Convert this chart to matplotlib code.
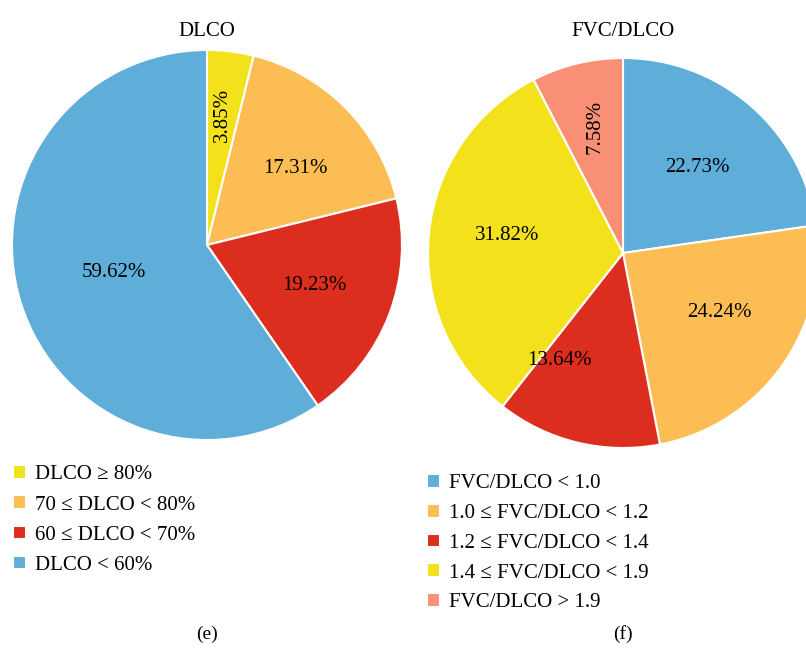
import numpy as np
import matplotlib
matplotlib.use("Agg")
import matplotlib.pyplot as plt

plt.rcParams['font.family'] = ['Liberation Serif', 'DejaVu Serif']

# DLCO pie (e)
dlco_labels = ["DLCO \u2265 80%", "70 \u2264 DLCO < 80%", "60 \u2264 DLCO < 70%", "DLCO < 60%"]
dlco_vals = [3.85, 17.31, 19.23, 59.62]
dlco_colors = ["#F2E11B", "#FDBD55", "#DC2E1E", "#5EAED9"]

# FVC/DLCO pie (f)
fvc_labels = ["FVC/DLCO < 1.0", "1.0 \u2264 FVC/DLCO < 1.2", "1.2 \u2264 FVC/DLCO < 1.4",
              "1.4 \u2264 FVC/DLCO < 1.9", "FVC/DLCO > 1.9"]
fvc_vals = [22.73, 24.24, 13.64, 31.82, 7.58]
fvc_colors = ["#5EAED9", "#FDBD55", "#DC2E1E", "#F2E11B", "#F98F75"]

W, H = 806, 650
R = 195
fig = plt.figure(figsize=(W / 100, H / 100), dpi=100)


def pie_axes(cx, cy):
    return fig.add_axes([(cx - R) / W, (H - cy - R) / H, 2 * R / W, 2 * R / H])


def draw_pie(ax, vals, colors, dist, rot, shift):
    wedges, _ = ax.pie(vals, colors=colors, startangle=90, counterclock=False, radius=1,
                       wedgeprops=dict(edgecolor="white", linewidth=1.5))
    for w, v, d, r, s in zip(wedges, vals, dist, rot, shift):
        ang = np.deg2rad((w.theta1 + w.theta2) / 2 + s)
        ax.text(d * np.cos(ang), d * np.sin(ang), "%.2f%%" % v, ha="center", va="center",
                fontsize=15, rotation=r)
    ax.set_xlim(-1, 1)
    ax.set_ylim(-1, 1)
    ax.axis("off")
    return wedges


ax1 = pie_axes(207, 245)
w1 = draw_pie(ax1, dlco_vals, dlco_colors, [0.67, 0.6, 0.59, 0.5], [90, 0, 0, 0], [0, -4, 0, -1])

ax2 = pie_axes(623, 253)
w2 = draw_pie(ax2, fvc_vals, fvc_colors, [0.58, 0.58, 0.64, 0.6, 0.66], [0, 0, 0, 0, 90],
              [0, 4, -17, -3, -1])

fig.text(207 / W, 1 - 31 / H, "DLCO", ha="center", va="center", fontsize=15)
fig.text(623 / W, 1 - 31 / H, "FVC/DLCO", ha="center", va="center", fontsize=15)

leg_kw = dict(frameon=False, fontsize=15, handlelength=0.62, handleheight=0.62,
              handletextpad=0.4, borderaxespad=0, loc="upper left")
fig.legend(w1, dlco_labels, bbox_to_anchor=(5 / W, 1 - 457 / H), labelspacing=0.53, **leg_kw)
fig.legend(w2, fvc_labels, bbox_to_anchor=(419 / W, 1 - 466 / H), labelspacing=0.51, **leg_kw)

fig.text(207 / W, 1 - 634 / H, "(e)", ha="center", va="center", fontsize=14)
fig.text(623 / W, 1 - 634 / H, "(f)", ha="center", va="center", fontsize=14)

fig.savefig("out.png", dpi=100)
